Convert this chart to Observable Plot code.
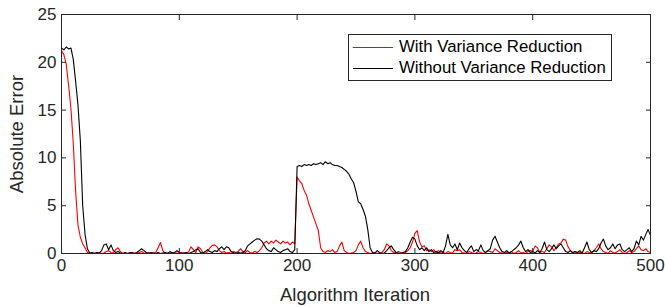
<!DOCTYPE html>
<html><head><meta charset="utf-8">
<script src="https://cdn.jsdelivr.net/npm/d3@7"></script>
<script src="https://cdn.jsdelivr.net/npm/@observablehq/plot@0.6"></script>
<style>
body{margin:0;background:#fff;}
#wrap{position:relative;width:665px;height:307px;font-family:"Liberation Sans",Arial,sans-serif;color:#262626;}
.legend{position:absolute;left:348px;top:34px;width:264px;height:47px;border:1px solid #262626;background:#fff;box-sizing:border-box;}
.row{position:absolute;left:4px;height:20px;display:flex;align-items:center;font-size:16.8px;color:#000;white-space:nowrap;}
.row span.sw{display:inline-block;width:40px;height:0;border-top:1.2px solid;margin-right:6px;}
.ytitle{position:absolute;left:17px;top:134px;transform:translate(-50%,-50%) rotate(-90deg);font-size:18.5px;white-space:nowrap;}
.xtitle{position:absolute;left:355px;top:295px;transform:translate(-50%,-50%);font-size:18.5px;white-space:nowrap;}
</style></head>
<body><div id="wrap"></div>
<script>
const seriesNames = ["With Variance Reduction", "Without Variance Reduction"];
const seriesColors = ["#ff0000", "#000000"];
const xTicks = [0, 100, 200, 300, 400, 500];
const yTicks = [0, 5, 10, 15, 20, 25];
// values every 2 iterations (0,2,...,500)
const withVR = [
21.2,20.8,19.8,17.6,15.2,11.5,6.5,3.0,1.7,1.0,
0.6,0.1,0.05,0,0.05,0,0.1,0,0.05,0.2,
0.3,0.1,0.05,0.4,0.6,0.2,0,0.05,0,0.1,
0,0.05,0,0.1,0.2,0.05,0,0.1,0,0.05,
0.1,0.6,1.15,0.3,0,0.05,0,0.1,0,0.05,
0,0.1,0.05,0,0.2,0.7,0.4,0.1,0.7,0.5,
0.1,0,0.2,0.6,0.85,0.9,0.7,0.3,0.1,0.2,
0.05,0.1,0,0.2,0.1,0.2,0.5,0.2,0.1,0.3,
0.1,0.05,0.2,0.1,0.3,0.6,1.1,1.3,1.0,1.3,
1.1,1.4,1.2,1.0,1.3,1.1,1.2,0.9,1.2,1.0,
8.0,7.6,7.3,6.6,6.1,5.2,4.5,3.8,3.1,2.4,
0.6,0.2,0.1,0.3,0.2,0.4,0.1,0.2,0.8,1.2,
0.3,0.1,0,0.05,0.1,0.3,0.9,1.3,0.6,0.2,
0.1,0,0.05,0.1,0,0.05,0.1,0.4,1.0,0.8,
0.3,0.1,0.05,0.2,0.1,0,0.1,0.3,0.6,1.2,
2.1,2.4,1.2,0.7,0.8,0.3,0.4,0.2,0.4,0.1,
0.3,0.05,0.1,0,0.2,0.1,0.05,0.4,0.3,0.4,
0.1,0.05,0,0.2,0.1,0,0.05,0.2,0.1,0,
0.1,0.3,0.2,0.1,0.5,0.3,0.1,0.05,0,0.1,
0.05,0.2,0,0.1,0.3,0.05,0.1,0,0.2,0.3,
0.2,0.8,0.6,0.1,0.2,0.1,0.5,0.9,0.7,0.3,
0.6,1.0,1.1,1.5,1.4,0.7,0.3,0.1,0.2,0,
0.1,0.05,0,0.2,0.1,0.05,0.3,0.6,1.0,0.5,
0.2,0.1,0,0.3,0.1,0.05,0.2,0.4,0.1,0,
0.1,0.3,0.1,0.2,0.5,0.8,0.4,0.3,0.5,0.2,
0.1];
const withoutVR = [
21.5,21.3,21.6,21.4,21.5,20.3,18.0,15.5,11.8,5.0,
2.0,0.5,0.05,0.1,0,0.1,0.05,0.3,0.9,1.0,
0.4,0.9,0.3,0.1,0.2,0.05,0,0.1,0,0.05,
0.1,0,0.1,0.3,0.5,0.3,0.1,0,0.1,0.05,
0,0.1,0,0.05,0.1,0,0.2,0.05,0.1,0.3,
0.1,0,0.05,0.1,0,0.1,0.2,0.4,0.5,0.1,
0.05,0.2,0.4,0.2,0.1,0.3,0.2,0.5,0.7,0.4,
0.7,0.6,0.2,0.1,0,0.1,0.05,0.1,0.3,0.8,
1.0,1.2,1.4,1.55,1.5,1.3,0.9,0.5,0.3,0.2,
0.6,0.4,0.2,0.1,0.3,0.4,0.5,0.2,0.1,0.4,
9.1,9.2,9.1,9.3,9.2,9.3,9.2,9.4,9.3,9.4,
9.5,9.3,9.6,9.4,9.5,9.3,9.2,9.2,9.1,9.0,
8.8,8.6,8.3,7.8,7.4,6.5,5.4,5.2,4.6,3.9,
2.5,0.6,0.1,0.05,0.3,0.1,0,0.05,0.3,0.6,
0.8,0.4,0.1,0.05,0,0.1,0.2,0.6,1.2,1.7,
1.5,0.8,0.4,0.6,0.3,0.6,0.2,0.4,0.1,0.2,
0.05,0.3,0.1,0.8,2.0,0.9,0.6,1.0,0.4,1.1,
0.6,0.3,0.1,0.5,0.8,0.2,0.4,0.3,0.9,0.3,
0.1,0.3,0.5,1.4,1.8,1.2,0.6,0.2,0.1,0.3,
0.05,0.2,0.4,0.6,0.9,1.3,0.6,0.2,0.4,0.1,
0.2,0.05,0.3,0.1,0.5,1.2,0.4,0.2,0.5,0.9,
0.5,0.8,1.0,0.6,0.2,0.1,0.3,0.05,0.2,0.1,
0.3,0.05,0.6,1.2,0.4,0.1,0.3,0.2,0.5,1.1,
1.5,0.8,0.4,0.6,1.0,0.5,0.9,1.0,0.4,0.2,
0.4,0.6,0.2,0.5,1.3,0.9,1.8,1.4,2.0,2.5,
1.9];
const iterations = d3.range(0, 501, 2);

const data = [];
[withVR, withoutVR].forEach((arr, s) => arr.forEach((v, k) => data.push({x: iterations[k], y: v, s: seriesNames[s]})));

const chart = Plot.plot({
  width: 665, height: 307,
  marginLeft: 61, marginRight: 15, marginTop: 14, marginBottom: 54,
  style: {fontFamily: '"Liberation Sans", Arial, sans-serif', fontSize: "17px", color: "#262626", background: "#fff"},
  x: {domain: [0, 500], ticks: xTicks, label: null},
  y: {domain: [0, 25], ticks: yTicks, label: null},
  color: {domain: seriesNames, range: seriesColors},
  marks: [
    Plot.line(data, {x: "x", y: "y", z: "s", stroke: "s", strokeWidth: 1.1}),
    Plot.frame({stroke: "#262626", strokeWidth: 1}),
    Plot.axisX({ticks: xTicks, tickSize: -5, tickPadding: 10, stroke: "#262626", fill: "#262626"}),
    Plot.axisX({ticks: xTicks, anchor: "top", tickSize: -5, tickFormat: () => "", stroke: "#262626"}),
    Plot.axisY({ticks: yTicks, tickSize: -5, tickPadding: 10, stroke: "#262626", fill: "#262626"}),
    Plot.axisY({ticks: yTicks, anchor: "right", tickSize: -5, tickFormat: () => "", stroke: "#262626"})
  ]
});
const wrap = document.getElementById("wrap");
wrap.appendChild(chart);
const yt = document.createElement("div"); yt.className = "ytitle"; yt.textContent = "Absolute Error"; wrap.appendChild(yt);
const xt = document.createElement("div"); xt.className = "xtitle"; xt.textContent = "Algorithm Iteration"; wrap.appendChild(xt);
const lg = document.createElement("div"); lg.className = "legend";
seriesNames.forEach((n, i) => {
  const r = document.createElement("div"); r.className = "row"; r.style.top = (2 + i * 21) + "px";
  const sw = document.createElement("span"); sw.className = "sw"; sw.style.borderColor = seriesColors[i];
  r.appendChild(sw); r.appendChild(document.createTextNode(n)); lg.appendChild(r);
});
wrap.appendChild(lg);
</script></body></html>
